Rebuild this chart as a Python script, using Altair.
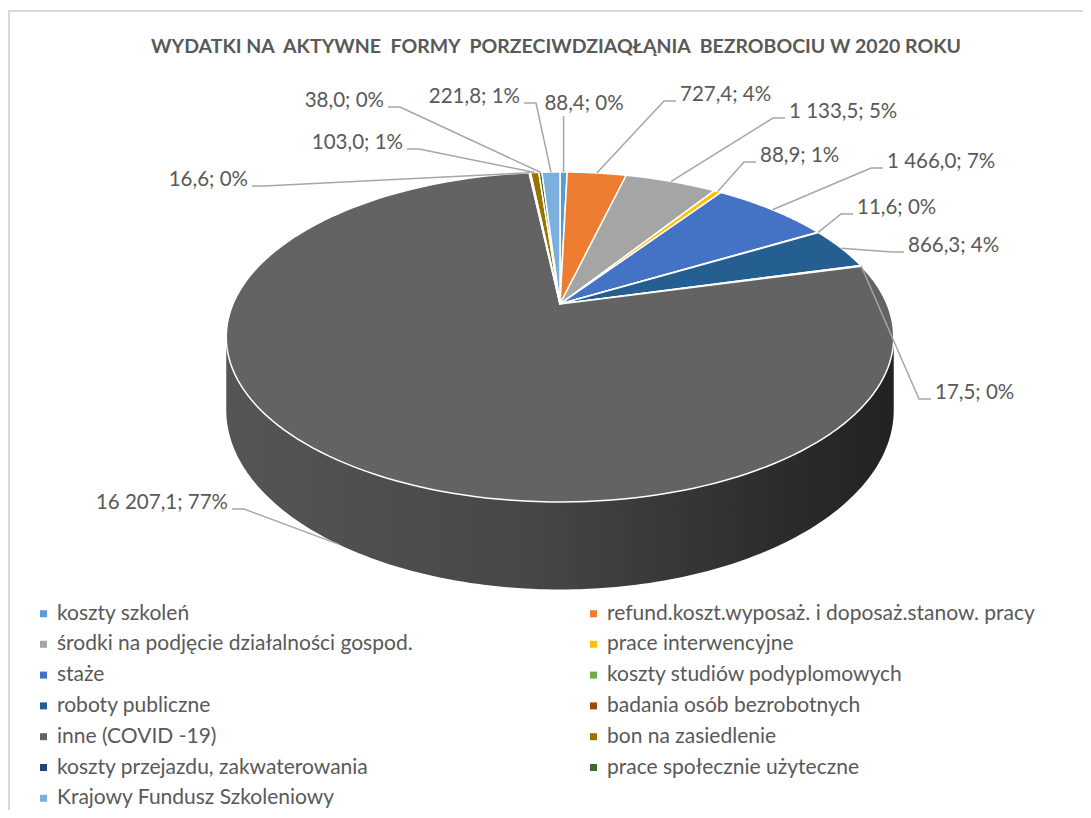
import altair as alt
import pandas as pd

# ---- data ----
title_text = "WYDATKI NA\u00a0 AKTYWNE\u00a0 FORMY\u00a0 PORZECIWDZIAQŁĄNIA\u00a0 BEZROBOCIU W 2020 ROKU"
categories = [
    "koszty szkoleń",
    "refund.koszt.wyposaż. i doposaż.stanow. pracy",
    "środki na podjęcie działalności gospod.",
    "prace interwencyjne",
    "staże",
    "koszty studiów podyplomowych",
    "roboty publiczne",
    "badania osób bezrobotnych",
    "inne (COVID -19)",
    "bon na zasiedlenie",
    "koszty przejazdu, zakwaterowania",
    "prace społecznie użyteczne",
    "Krajowy Fundusz Szkoleniowy",
]
values = [88.4, 727.4, 1133.5, 88.9, 1466.0, 11.6, 866.3, 17.5, 16207.1, 103.0, 16.6, 38.0, 221.8]
pcts = [0, 4, 5, 1, 7, 0, 4, 0, 77, 1, 0, 0, 1]
slice_order = [0, 1, 2, 3, 4, 5, 6, 7, 8, 10, 9, 11, 12]
colors = ["#5B9BD5", "#ED7D31", "#A5A5A5", "#FFC000", "#4472C4", "#70AD47",
          "#255E91", "#9E480E", "#636363", "#997300", "#264478", "#43682B", "#7CAFDD"]

# ---- label layout (page pixels) ----
label_x = [584, 680, 789, 760, 887, 857, 908, 935, 228, 403, 248, 384, 520]
label_y = [104, 95, 112, 156, 162, 208, 246, 393, 503, 143, 180, 101, 97]
label_align = ["center", "left", "left", "left", "left", "left", "left", "left",
               "right", "right", "right", "right", "right"]

df = pd.DataFrame({
    "cat": categories, "value": values, "pct": pcts, "ord": slice_order,
    "lx": label_x, "ly": label_y, "la": label_align,
})

# legend is filled column by column: left column = even entries, right = odd entries
legend_idx = list(range(0, 13, 2)) + list(range(1, 13, 2))
legend_domain = [categories[i] for i in legend_idx]
legend_range = [colors[i] for i in legend_idx]

# ---- 3D pie geometry (style constants) ----
CX, CY, A, B, K, DEPTH = 560, 304, 327, 158.4, 0.2, 70
N = 160
TR = 1.7722          # right silhouette angle, acos(-K)
TL = 6.283185 - TR   # left silhouette angle

W, H, TOP = 1075, 742, 60
xs = alt.Scale(domain=[8, 8 + W], nice=False, zero=False)
ys = alt.Scale(domain=[8 + TOP, 8 + TOP + H], reverse=True, nice=False, zero=False)
FONT = "Lato"
TXT = "#595959"


def base():
    return alt.Chart(df).transform_joinaggregate(total="sum(value)").transform_window(
        cum="sum(value)", sort=[alt.SortField("ord")], frame=[None, 0]
    ).transform_calculate(
        a0="2*PI*(datum.cum - datum.value)/datum.total"
    ).transform_calculate(
        a1="2*PI*datum.cum/datum.total"
    )


# top faces
top = base().transform_calculate(k=f"sequence(-1, {N + 1})").transform_flatten(["k"]).transform_calculate(
    th=f"datum.a0 + (datum.a1 - datum.a0) * max(datum.k, 0) / {N}"
).transform_calculate(
    s=f"1/(1 + {K}*cos(datum.th))"
).transform_calculate(
    px=f"datum.k < 0 ? {CX} : {CX} + {A}*sin(datum.th)*datum.s"
).transform_calculate(
    py=f"datum.k < 0 ? {CY} : {CY} - {B}*cos(datum.th)*datum.s"
).mark_line(filled=True, interpolate="linear-closed", stroke="white", strokeWidth=1.5,
            strokeJoin="round").encode(
    x=alt.X("px:Q", scale=xs, axis=None),
    y=alt.Y("py:Q", scale=ys, axis=None),
    color=alt.Color("cat:N", scale=alt.Scale(domain=legend_domain, range=legend_range),
                    legend=alt.Legend(orient="none", legendX=25, legendY=535, columns=2,
                                      symbolType="square", symbolSize=49, symbolStrokeWidth=0,
                                      labelFont=FONT, labelFontSize=21, labelColor=TXT,
                                      labelOffset=3, rowPadding=8.8, columnPadding=170,
                                      labelLimit=800, title=None, padding=0)),
    order=alt.Order("k:Q"),
)

# side wall (front part of the cylinder)
side = base().transform_calculate(
    b0=f"max(datum.a0, {TR})"
).transform_calculate(
    b1=f"min(datum.a1, {TL})"
).transform_filter("datum.b1 > datum.b0").transform_calculate(
    k=f"sequence(0, {N + 1})"
).transform_flatten(["k"]).transform_calculate(
    th=f"datum.b0 + (datum.b1 - datum.b0) * datum.k / {N}"
).transform_calculate(
    s=f"1/(1 + {K}*cos(datum.th))"
).transform_calculate(
    px=f"{CX} + {A}*sin(datum.th)*datum.s"
).transform_calculate(
    py=f"{CY} - {B}*cos(datum.th)*datum.s"
).transform_calculate(
    py2=f"datum.py + {DEPTH}*datum.s"
).mark_area(
    color=alt.Gradient(gradient="linear", x1=0, x2=1, y1=0, y2=0, stops=[
        alt.GradientStop(color="#555555", offset=0),
        alt.GradientStop(color="#474747", offset=0.45),
        alt.GradientStop(color="#2e2e2e", offset=0.8),
        alt.GradientStop(color="#222222", offset=1),
    ])
).encode(
    x=alt.X("px:Q", scale=xs, axis=None),
    y=alt.Y("py:Q", scale=ys, axis=None),
    y2="py2:Q",
    detail="cat:N",
)

# leader lines
leaders = base().transform_calculate(am="(datum.a0 + datum.a1)/2").transform_calculate(
    s=f"1/(1 + {K}*cos(datum.am))"
).transform_calculate(
    sx=f"{CX} + {A}*sin(datum.am)*datum.s"
).transform_calculate(
    sy=f"{CY} - {B}*cos(datum.am)*datum.s + ((datum.am > {TR} && datum.am < {TL}) ? {DEPTH}*datum.s : 0)"
).transform_calculate(
    ey="datum.la == 'center' ? datum.ly + 12 : datum.ly + 6"
).transform_calculate(
    ex="datum.la == 'left' ? datum.lx - 4 : (datum.la == 'right' ? datum.lx + 4 : datum.sx)"
).transform_calculate(
    bx="datum.la == 'left' ? datum.lx - 16 : (datum.la == 'right' ? datum.lx + 16 : datum.sx)"
).transform_calculate(k="sequence(0, 3)").transform_flatten(["k"]).transform_calculate(
    px="datum.k == 0 ? datum.sx : (datum.k == 1 ? datum.bx : datum.ex)"
).transform_calculate(
    py="datum.k == 0 ? datum.sy : datum.ey"
).mark_line(color="#A6A6A6", strokeWidth=1.5).encode(
    x=alt.X("px:Q", scale=xs, axis=None),
    y=alt.Y("py:Q", scale=ys, axis=None),
    detail="cat:N",
    order=alt.Order("k:Q"),
)


def labels(align):
    return alt.Chart(df).transform_filter(f"datum.la == '{align}'").transform_calculate(
        txt="format(datum.value, ',.1f') + '; ' + datum.pct + '%'"
    ).mark_text(align=align, baseline="middle", font=FONT, fontSize=20.5, color=TXT).encode(
        x=alt.X("lx:Q", scale=xs, axis=None),
        y=alt.Y("ly:Q", scale=ys, axis=None),
        text="txt:N",
    )


frame_df = pd.DataFrame({"f": [0]})
frame_top = alt.Chart(frame_df).mark_rule(color="#D9D9D9", strokeWidth=2).encode(
    x=alt.value(0), x2=alt.value(W), y=alt.value(11 - 8 - TOP)
)
frame_left = alt.Chart(frame_df).mark_rule(color="#D9D9D9", strokeWidth=2).encode(
    x=alt.value(1), y=alt.value(11 - 8 - TOP), y2=alt.value(H)
)
title = alt.Chart(frame_df).mark_text(
    text=title_text, font=FONT, fontSize=19.5, fontWeight="bold", color=TXT,
    align="center", baseline="middle",
).encode(x=alt.value(556 - 8), y=alt.value(47 - 8 - TOP))

chart = alt.layer(
    frame_top, frame_left, title, side, top, leaders,
    labels("left"), labels("right"), labels("center"),
).properties(
    width=W, height=H,
    padding={"left": 0, "top": TOP, "right": 0, "bottom": 0},
    autosize=alt.AutoSizeParams(type="none"),
).configure(
    locale={"number": {"decimal": ",", "thousands": " ", "grouping": [3], "currency": ["", ""]}},
    view=alt.ViewConfig(stroke=None),
    background="white",
)

chart.save("out.html", embed_options={"renderer": "svg", "actions": False})
